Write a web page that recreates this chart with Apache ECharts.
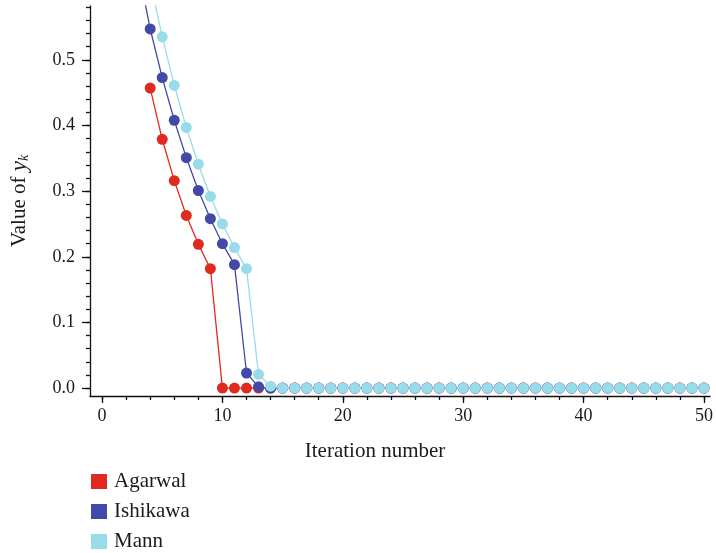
<!DOCTYPE html>
<html>
<head>
<meta charset="utf-8">
<script src="https://cdn.jsdelivr.net/npm/echarts@6/dist/echarts.min.js"></script>
<style>
html,body{margin:0;padding:0;background:#fff;}
#chart{width:716px;height:553px;}
</style>
</head>
<body>
<div id="chart"></div>
<script>
const iterations = [0,1,2,3,4,5,6,7,8,9,10,11,12,13,14,15,16,17,18,19,20,21,22,23,24,25,26,27,28,29,30,31,32,33,34,35,36,37,38,39,40,41,42,43,44,45,46,47,48,49,50];
const agarwal = [null,null,null,null,0.457,0.379,0.316,0.263,0.219,0.182,
  0,0,0,0,0,0,0,0,0,0,
  0,0,0,0,0,0,0,0,0,0,
  0,0,0,0,0,0,0,0,0,0,
  0,0,0,0,0,0,0,0,0,0,0];
const ishikawa = [null,null,null,0.64,0.547,0.473,0.408,0.351,0.301,0.258,
  0.220,0.188,0.023,0.002,0,0,0,0,0,0,
  0,0,0,0,0,0,0,0,0,0,
  0,0,0,0,0,0,0,0,0,0,
  0,0,0,0,0,0,0,0,0,0,0];
const mann = [null,null,null,null,0.62,0.535,0.461,0.397,0.341,0.292,
  0.250,0.214,0.182,0.021,0.003,0,0,0,0,0,
  0,0,0,0,0,0,0,0,0,0,
  0,0,0,0,0,0,0,0,0,0,
  0,0,0,0,0,0,0,0,0,0,0];
const seriesNames = ['Agarwal','Ishikawa','Mann'];
const xMajorTicks = [0,10,20,30,40,50];
const xMinorTicks = [0,2,4,6,8,10,12,14,16,18,20,22,24,26,28,30,32,34,36,38,40,42,44,46,48,50];
const yMajorTicks = [0,0.1,0.2,0.3,0.4,0.5];
const yMinorTicks = [0,0.02,0.04,0.06,0.08,0.1,0.12,0.14,0.16,0.18,0.2,0.22,0.24,0.26,0.28,0.3,0.32,0.34,0.36,0.38,0.4,0.42,0.44,0.46,0.48,0.5,0.52,0.54,0.56,0.58];

const colors = ['#e02a1f','#4349a8','#98dbea'];
const FONT = 'Liberation Serif';
const TXT = '#1a1a1a';

function pairs(vals){
  const out = [];
  for (let i = 0; i < iterations.length; i++) {
    if (vals[i] !== null) out.push([iterations[i], vals[i]]);
  }
  return out;
}
const allValues = [agarwal, ishikawa, mann];

const chart = echarts.init(document.getElementById('chart'), null, {renderer:'canvas'});
const axisLineStyle = {color:'#111', width:1.3};
chart.setOption({
  animation:false,
  backgroundColor:'#fff',
  color: colors,
  grid:{left:90, right:4, top:6, bottom:157, containLabel:false},
  legend:{
    orient:'vertical', left:91, top:471, padding:0, height:90,
    itemWidth:16, itemHeight:15, itemGap:9,
    icon:'rect', data: seriesNames,
    textStyle:{fontFamily:FONT, fontSize:21, color:TXT, padding:[0,0,0,2]}
  },
  xAxis:[{
    type:'value', min:-1, max:50.5, position:'bottom',
    axisLine:{show:true, onZero:false, lineStyle:axisLineStyle},
    axisTick:{show:true, inside:false, length:7, customValues:xMajorTicks, lineStyle:axisLineStyle},
    axisLabel:{customValues:xMajorTicks, margin:11, fontFamily:FONT, fontSize:18, color:TXT},
    splitLine:{show:false},
    name:'Iteration number', nameLocation:'middle', nameGap:45,
    nameTextStyle:{fontFamily:FONT, fontSize:21, color:TXT, padding:[0,50,0,0]}
  },{
    type:'value', min:-1, max:50.5, position:'bottom',
    axisLine:{show:false, onZero:false},
    axisTick:{show:true, inside:false, length:4, customValues:xMinorTicks, lineStyle:axisLineStyle},
    axisLabel:{show:false},
    splitLine:{show:false}
  }],
  yAxis:[{
    type:'value', min:-0.012, max:0.582, position:'left',
    axisLine:{show:true, onZero:false, lineStyle:axisLineStyle},
    axisTick:{show:true, inside:false, length:8, customValues:yMajorTicks, lineStyle:axisLineStyle},
    axisLabel:{customValues:yMajorTicks, margin:15, fontFamily:FONT, fontSize:18, color:TXT,
      formatter:function(v){return v.toFixed(1);}},
    splitLine:{show:false},
    name:'{n|Value of }{i|y}{s|k}', nameLocation:'middle', nameGap:59,
    nameTextStyle:{
      fontFamily:FONT, fontSize:21, color:TXT,
      rich:{
        n:{fontFamily:FONT, fontSize:21, color:TXT},
        i:{fontFamily:FONT, fontSize:23, fontStyle:'italic', color:TXT},
        s:{fontFamily:FONT, fontSize:14, fontStyle:'italic', color:TXT, verticalAlign:'bottom', padding:[9,0,0,0]}
      }
    }
  },{
    type:'value', min:-0.012, max:0.582, position:'left',
    axisLine:{show:false, onZero:false},
    axisTick:{show:true, inside:false, length:4, customValues:yMinorTicks, lineStyle:axisLineStyle},
    axisLabel:{show:false},
    splitLine:{show:false}
  }],
  series: seriesNames.map(function(name, k){
    return {
      name:name, type:'line', xAxisIndex:0, yAxisIndex:0,
      data: pairs(allValues[k]),
      symbol:'circle', symbolSize:11, showAllSymbol:true,
      clip:true,
      lineStyle:{width:1.3, color:colors[k]},
      itemStyle:{color:colors[k]},
      emphasis:{disabled:true},
      z: 2 + k
    };
  })
});
</script>
</body>
</html>
